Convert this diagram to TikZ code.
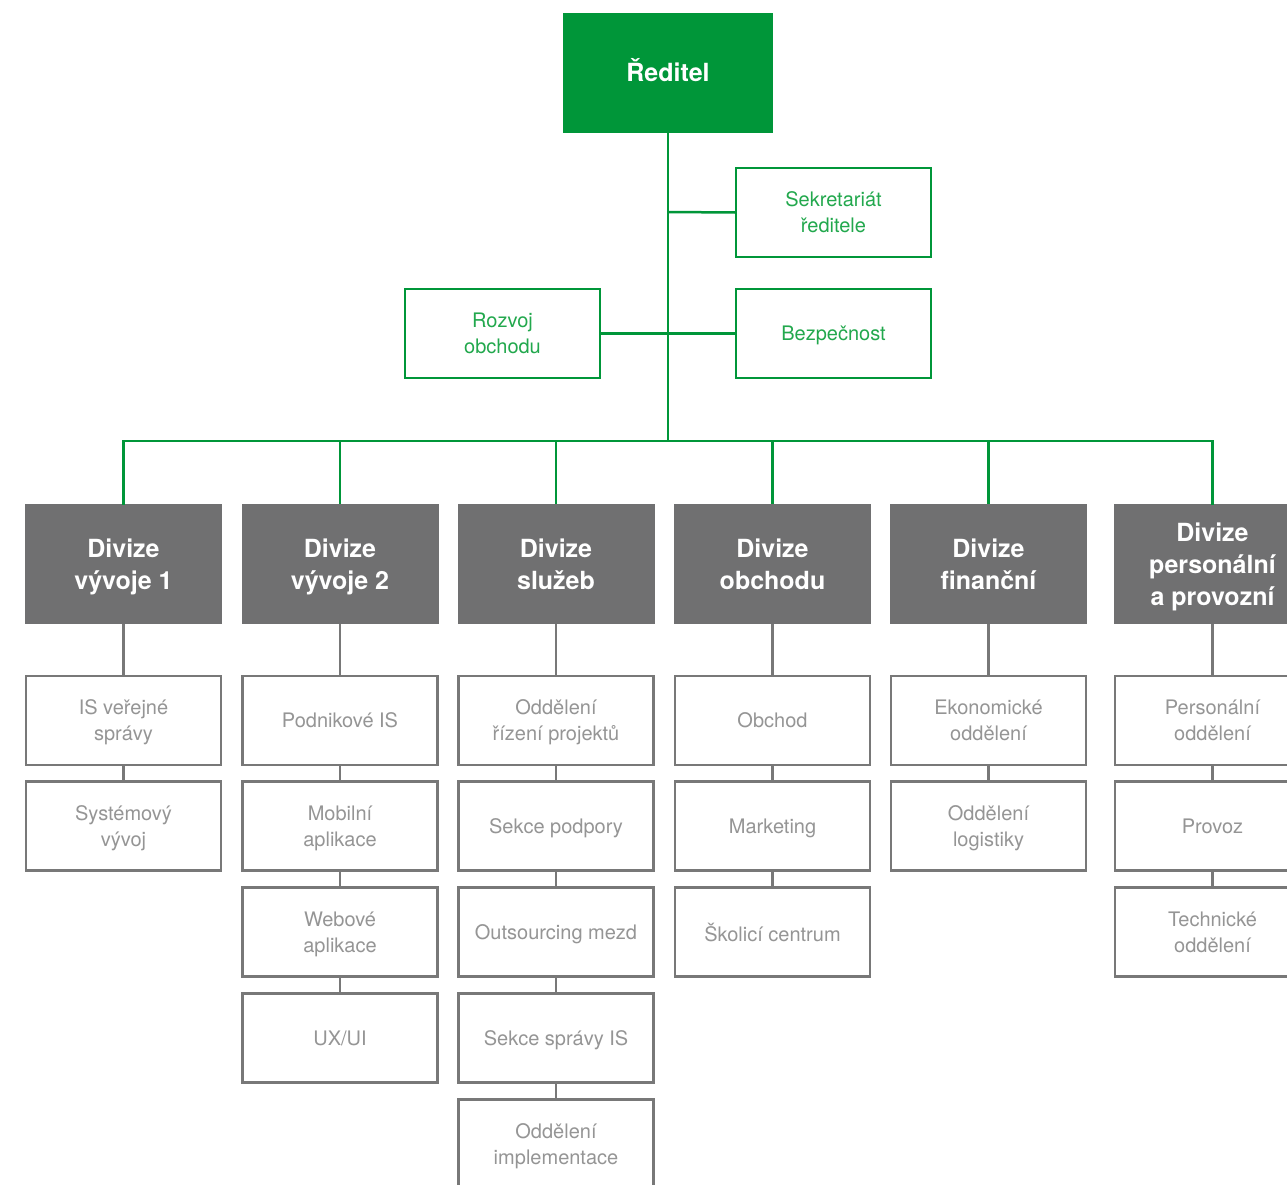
\documentclass[tikz,border=0pt]{standalone}
\usepackage{fontspec}
\setmainfont{TeX Gyre Heros}
\definecolor{dgreen}{HTML}{009639}
\definecolor{tgreen}{HTML}{22A84D}
\definecolor{dgray}{HTML}{707071}
\definecolor{lgray}{HTML}{787878}
\definecolor{tgray}{HTML}{959595}
\tikzset{
  dirbox/.style={fill=dgreen, draw=none, minimum width=210pt, minimum height=120pt, text=white, font=\fontsize{25}{31}\selectfont\bfseries, align=center, inner sep=0pt, text height=18pt, text depth=0pt},
  sidebox/.style={draw=dgreen, line width=2.5pt, fill=white, minimum width=195pt, minimum height=89pt, text=tgreen, font=\fontsize{20}{26}\selectfont, align=center, inner sep=0pt, text depth=-1pt},
  divbox/.style={fill=dgray, draw=none, minimum width=197pt, minimum height=120pt, text=white, font=\fontsize{25}{32}\selectfont\bfseries, align=center, inner sep=0pt, text depth=-3pt},
  subbox/.style={draw=lgray, line width=2.5pt, fill=white, minimum width=195pt, minimum height=89pt, text=tgray, font=\fontsize{20}{26}\selectfont, align=center, inner sep=0pt, text depth=-2pt},
  gline/.style={draw=dgreen, line width=2.5pt},
  kline/.style={draw=lgray, line width=2.5pt},
}
\begin{document}
\begin{tikzpicture}[x=1pt, y=-1pt]
\useasboundingbox (0,0) rectangle (1287,1185);
\clip (0,0) rectangle (1287,1185);
\fill[white] (0,0) rectangle (1287,1185);

\coordinate (bus) at (668,441);
\coordinate (j1) at (668,212);

\node[dirbox] (dir) at (668,73) {Ředitel};
\node[sidebox] (sek) at (833.5,212.5) {Sekretariát\\ředitele};
\node[sidebox] (roz) at (502.5,333.5) {Rozvoj\\obchodu};
\node[sidebox] (bez) at (833.5,333.5) {Bezpečnost};

\node[divbox] (d1) at (123.5,564) {Divize\\vývoje 1};
\node[divbox] (d2) at (340,564) {Divize\\vývoje 2};
\node[divbox] (d3) at (556,564) {Divize\\služeb};
\node[divbox] (d4) at (772.5,564) {Divize\\obchodu};
\node[divbox] (d5) at (988.5,564) {Divize\\finanční};
\node[divbox] (d6) at (1212.5,564) {Divize\\personální\\a provozní};

% column 1
\node[subbox] (a1) at (123.5,720.5) {IS veřejné\\správy};
\node[subbox] (a2) at (123.5,826) {Systémový\\vývoj};
% column 2
\node[subbox] (b1) at (340,720.5) {Podnikové IS};
\node[subbox] (b2) at (340,826) {Mobilní\\aplikace};
\node[subbox] (b3) at (340,932) {Webové\\aplikace};
\node[subbox] (b4) at (340,1038) {UX/UI};
% column 3
\node[subbox] (c1) at (556,720.5) {Oddělení\\řízení projektů};
\node[subbox] (c2) at (556,826) {Sekce podpory};
\node[subbox] (c3) at (556,932) {Outsourcing mezd};
\node[subbox] (c4) at (556,1038) {Sekce správy IS};
\node[subbox] (c5) at (556,1144) {Oddělení\\implementace};
% column 4
\node[subbox] (e1) at (772.5,720.5) {Obchod};
\node[subbox] (e2) at (772.5,826) {Marketing};
\node[subbox] (e3) at (772.5,932) {Školicí centrum};
% column 5
\node[subbox] (f1) at (988.5,720.5) {Ekonomické\\oddělení};
\node[subbox] (f2) at (988.5,826) {Oddělení\\logistiky};
% column 6
\node[subbox] (g1) at (1212.5,720.5) {Personální\\oddělení};
\node[subbox] (g2) at (1212.5,826) {Provoz};
\node[subbox] (g3) at (1212.5,932) {Technické\\oddělení};

% green connectors
\draw[gline] (dir.south) -- (bus);
\draw[gline] (j1) -- (sek.west);
\draw[gline] (roz.east) -- (bez.west);
\draw[gline, line cap=rect] (d1.north) |- (bus);
\draw[gline, line cap=rect] (d6.north) |- (bus);
\draw[gline] (d2.north) -- (d2.north |- bus);
\draw[gline] (d3.north) -- (d3.north |- bus);
\draw[gline] (d4.north) -- (d4.north |- bus);
\draw[gline] (d5.north) -- (d5.north |- bus);

% gray connectors
\draw[kline] (d1.south) -- (a1.north);
\draw[kline] (a1.south) -- (a2.north);
\draw[kline] (d2.south) -- (b1.north);
\draw[kline] (b1.south) -- (b2.north);
\draw[kline] (b2.south) -- (b3.north);
\draw[kline] (b3.south) -- (b4.north);
\draw[kline] (d3.south) -- (c1.north);
\draw[kline] (c1.south) -- (c2.north);
\draw[kline] (c2.south) -- (c3.north);
\draw[kline] (c3.south) -- (c4.north);
\draw[kline] (c4.south) -- (c5.north);
\draw[kline] (d4.south) -- (e1.north);
\draw[kline] (e1.south) -- (e2.north);
\draw[kline] (e2.south) -- (e3.north);
\draw[kline] (d5.south) -- (f1.north);
\draw[kline] (f1.south) -- (f2.north);
\draw[kline] (d6.south) -- (g1.north);
\draw[kline] (g1.south) -- (g2.north);
\draw[kline] (g2.south) -- (g3.north);
\end{tikzpicture}
\end{document}
